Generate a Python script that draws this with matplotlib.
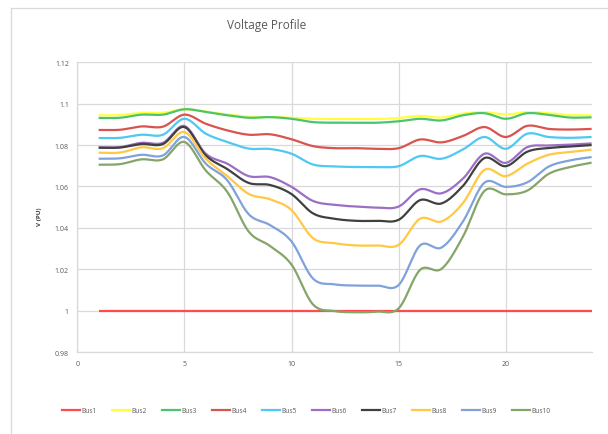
import numpy as np
import matplotlib.pyplot as plt
from matplotlib.lines import Line2D

plt.rcParams["font.family"] = ["Open Sans", "DejaVu Sans"]

# ------------------------------------------------------------
# Data (hour 1..24, per-unit voltage)
# ------------------------------------------------------------
hours = list(range(1, 25))

bus1 = [1.0] * 24
bus2 = [1.0944, 1.0945, 1.0956, 1.0956, 1.0973, 1.0962, 1.0948, 1.0937, 1.0936, 1.0932,
        1.0927, 1.0926, 1.0926, 1.0926, 1.0931, 1.0941, 1.0933, 1.0952, 1.0959, 1.0948,
        1.0959, 1.0954, 1.0945, 1.0944]
bus3 = [1.0931, 1.0932, 1.0947, 1.0947, 1.0973, 1.0960, 1.0944, 1.0932, 1.0935, 1.0927,
        1.0911, 1.0908, 1.0908, 1.0908, 1.0915, 1.0927, 1.0919, 1.0944, 1.0954, 1.0927,
        1.0954, 1.0946, 1.0933, 1.0934]
bus4 = [1.0873, 1.0874, 1.0890, 1.0889, 1.0947, 1.0903, 1.0871, 1.0850, 1.0852, 1.0828,
        1.0795, 1.0785, 1.0785, 1.0782, 1.0785, 1.0827, 1.0813, 1.0844, 1.0887, 1.0839,
        1.0893, 1.0878, 1.0875, 1.0878]
bus5 = [1.0834, 1.0835, 1.0850, 1.0850, 1.0927, 1.0855, 1.0815, 1.0783, 1.0781, 1.0758,
        1.0706, 1.0697, 1.0694, 1.0694, 1.0698, 1.0747, 1.0734, 1.0779, 1.0839, 1.0782,
        1.0855, 1.0839, 1.0835, 1.0839]
bus6 = [1.0789, 1.0790, 1.0811, 1.0811, 1.0892, 1.0758, 1.0710, 1.0650, 1.0645, 1.0598,
        1.0530, 1.0511, 1.0503, 1.0498, 1.0503, 1.0586, 1.0567, 1.0638, 1.0758, 1.0714,
        1.0790, 1.0798, 1.0802, 1.0808]
bus7 = [1.0787, 1.0788, 1.0805, 1.0805, 1.0887, 1.0750, 1.0684, 1.0617, 1.0607, 1.0563,
        1.0470, 1.0444, 1.0434, 1.0434, 1.0439, 1.0534, 1.0518, 1.0603, 1.0737, 1.0698,
        1.0768, 1.0786, 1.0793, 1.0800]
bus8 = [1.0763, 1.0764, 1.0789, 1.0785, 1.0863, 1.0734, 1.0650, 1.0564, 1.0538, 1.0486,
        1.0350, 1.0326, 1.0315, 1.0315, 1.0318, 1.0444, 1.0431, 1.0520, 1.0680, 1.0650,
        1.0710, 1.0753, 1.0766, 1.0778]
bus9 = [1.0734, 1.0736, 1.0753, 1.0750, 1.0839, 1.0710, 1.0630, 1.0466, 1.0413, 1.0334,
        1.0155, 1.0127, 1.0121, 1.0121, 1.0124, 1.0315, 1.0305, 1.0431, 1.0618, 1.0598,
        1.0620, 1.0696, 1.0726, 1.0742]
bus10 = [1.0705, 1.0708, 1.0731, 1.0731, 1.0815, 1.0677, 1.0574, 1.0382, 1.0312, 1.0222,
         1.0030, 0.9998, 0.9992, 0.9995, 1.0011, 1.0197, 1.0202, 1.0358, 1.0578, 1.0562,
         1.0580, 1.0661, 1.0694, 1.0715]

series_names = ["Bus1", "Bus2", "Bus3", "Bus4", "Bus5",
                "Bus6", "Bus7", "Bus8", "Bus9", "Bus10"]
series_values = [bus1, bus2, bus3, bus4, bus5, bus6, bus7, bus8, bus9, bus10]
series_colors = ["#FF4B4B", "#FFFF40", "#4CC46E", "#D9534F", "#4FC8F2",
                 "#9B6FC4", "#404040", "#FFC845", "#7FA2DC", "#85A56A"]

x_ticks = [0, 5, 10, 15, 20]
y_ticks = [0.98, 1.0, 1.02, 1.04, 1.06, 1.08, 1.1, 1.12]
y_labels = ["0.98", "1", "1.02", "1.04", "1.06", "1.08", "1.1", "1.12"]


# ------------------------------------------------------------
# Helper: Excel-like smoothed line (Catmull-Rom through the points)
# ------------------------------------------------------------
def smooth(x, y, n=20):
    x = np.asarray(x, float)
    y = np.asarray(y, float)
    px = np.concatenate([[2 * x[0] - x[1]], x, [2 * x[-1] - x[-2]]])
    py = np.concatenate([[2 * y[0] - y[1]], y, [2 * y[-1] - y[-2]]])
    xs, ys = [], []
    t = np.linspace(0, 1, n, endpoint=False)
    for i in range(1, len(px) - 2):
        for p, out in ((px, xs), (py, ys)):
            p0, p1, p2, p3 = p[i - 1], p[i], p[i + 1], p[i + 2]
            out.extend(0.5 * ((2 * p1) + (-p0 + p2) * t
                              + (2 * p0 - 5 * p1 + 4 * p2 - p3) * t ** 2
                              + (-p0 + 3 * p1 - 3 * p2 + p3) * t ** 3))
    xs.append(x[-1])
    ys.append(y[-1])
    return np.array(xs), np.array(ys)


# ------------------------------------------------------------
# Figure
# ------------------------------------------------------------
fig = plt.figure(figsize=(6.08, 4.35), dpi=100)
ax = fig.add_axes([0.127, 0.1885, 0.846, 0.666])

grid_col = "#D9D9D9"
text_col = "#595959"

for name, vals, col in zip(series_names, series_values, series_colors):
    sx, sy = smooth(hours, vals)
    ax.plot(sx, sy, color=col, lw=1.6, label=name, solid_capstyle="butt")

ax.set_xlim(0, 24)
ax.set_ylim(0.98, 1.12)
ax.set_xticks(x_ticks)
ax.set_yticks(y_ticks)
ax.set_yticklabels(y_labels)
ax.tick_params(length=0, labelsize=5, colors=text_col, pad=6)
ax.grid(True, color=grid_col, lw=0.9)
ax.set_axisbelow(True)
for side in ["top", "right"]:
    ax.spines[side].set_visible(False)
for side in ["left", "bottom"]:
    ax.spines[side].set_color(grid_col)
    ax.spines[side].set_linewidth(0.9)

fig.text(267 / 608, 1 - 25 / 435, "Voltage Profile", ha="center", va="center",
         fontsize=8.5, color=text_col)
fig.text(40 / 608, 1 - 217 / 435, "V (PU)", ha="center", va="center",
         rotation=90, fontsize=4.5, color="#404040", fontweight="bold")

handles = [Line2D([], [], color=c, lw=1.6) for c in series_colors]
fig.legend(handles, series_names, loc="center", ncol=10,
           bbox_to_anchor=(306 / 608, 1 - 412 / 435), frameon=False,
           fontsize=4.8, labelcolor=text_col, handlelength=2.7,
           handletextpad=0.2, columnspacing=2.3)

# chart area border (left and top edges visible)
fig.add_artist(Line2D([11 / 608, 11 / 608], [0, 1 - 9 / 435],
                      transform=fig.transFigure, color=grid_col, lw=0.9))
fig.add_artist(Line2D([11 / 608, 1], [1 - 9 / 435, 1 - 9 / 435],
                      transform=fig.transFigure, color=grid_col, lw=0.9))

fig.savefig("out.png", dpi=100)
plt.close(fig)
